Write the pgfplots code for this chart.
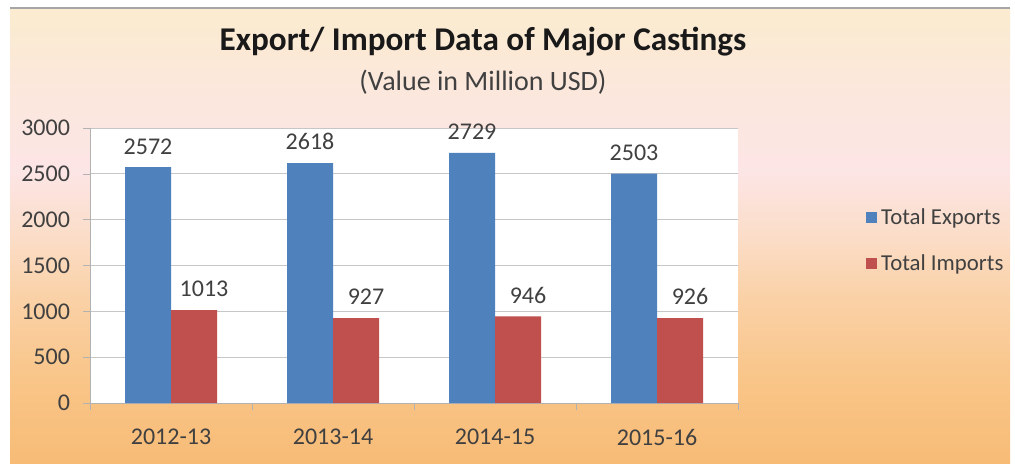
\documentclass[border=0pt]{standalone}
\usepackage{fontspec}
\setmainfont{Carlito}
\usepackage{pgfplots}
\pgfplotsset{compat=1.18}

\definecolor{expblue}{HTML}{4F81BD}
\definecolor{impred}{HTML}{C0504D}
\definecolor{txt}{HTML}{404040}
\definecolor{bgA}{HTML}{F7BB76}
\definecolor{bgB}{HTML}{F9C588}
\definecolor{bgC}{HTML}{FAD1A6}
\definecolor{bgD}{HTML}{FBDDC8}
\definecolor{bgE}{HTML}{FCE5E5}
\definecolor{bgF}{HTML}{FCE7DE}
\definecolor{bgG}{HTML}{FBEBD0}

% 25bp = bottom of the path, 75bp = top
\pgfdeclareverticalshading{bgshade}{100bp}{%
  color(0bp)=(bgA); color(25bp)=(bgA); color(34bp)=(bgB); color(43bp)=(bgC);
  color(50bp)=(bgD); color(57bp)=(bgE); color(65bp)=(bgF); color(74bp)=(bgG);
  color(100bp)=(bgG)}

\begin{document}
\begin{tikzpicture}
\useasboundingbox (0pt,0pt) rectangle (507.5pt,232.5pt);
\shade[shading=bgshade] (5pt,1pt) rectangle (505pt,228.5pt);
\draw[gray!70, line width=1pt] (5pt,228.5pt) -- (505pt,228.5pt);

\node[font=\bfseries\fontsize{16.6}{20}\selectfont, text=black!90] at (241.5pt,211.5pt)
  {Export/ Import Data of Major Castings};
\node[font=\fontsize{14}{17}\selectfont, text=txt] at (241.5pt,191.5pt)
  {(Value in Million USD)};

\begin{axis}[
  at={(45pt,31pt)}, anchor=south west,
  scale only axis, width=324pt, height=137.5pt,
  ybar=0pt, bar width=23pt,
  xmin=-0.5, xmax=3.5, ymin=0, ymax=3000,
  xtick={0,1,2,3},
  xticklabels={2012-13,2013-14,2014-15,2015-16},
  minor xtick={-0.5,0.5,1.5,2.5,3.5},
  ytick={0,500,1000,1500,2000,2500,3000},
  axis x line*=bottom, axis y line*=left,
  axis line style={draw=gray!60},
  tick align=outside,
  major tick length=3.5pt, minor tick length=3.5pt,
  major x tick style={draw=none},
  minor x tick style={draw=gray!60},
  y tick style={draw=gray!60},
  ymajorgrids, major grid style={gray!45},
  axis background/.style={fill=white},
  ticklabel style={font=\fontsize{12}{14}\selectfont, text=txt},
  xticklabel style={yshift=-6pt},
  yticklabel style={xshift=-3pt, /pgf/number format/1000 sep={}},
  /pgf/number format/assume math mode=true,
  nodes near coords,
  nodes near coords style={font=\fontsize{12}{14}\selectfont, text=txt, yshift=3pt,
    /pgf/number format/1000 sep={}, /pgf/number format/assume math mode=true},
  legend style={at={(1.188,0.59)}, anchor=west, draw=none, fill=none,
    font=\fontsize{11.4}{14}\selectfont, text=txt, row sep=9.5pt},
  legend cell align=left,
  legend image code/.code={\fill[#1] (0pt,-2.75pt) rectangle (5.5pt,2.75pt);},
]
\addplot[fill=expblue, draw=none] coordinates {(0,2572) (1,2618) (2,2729) (3,2503)};
\addplot[fill=impred, draw=none, every node near coord/.append style={xshift=5pt}]
  coordinates {(0,1013) (1,927) (2,946) (3,926)};
\legend{Total Exports, Total Imports}
\end{axis}
\end{tikzpicture}
\end{document}
